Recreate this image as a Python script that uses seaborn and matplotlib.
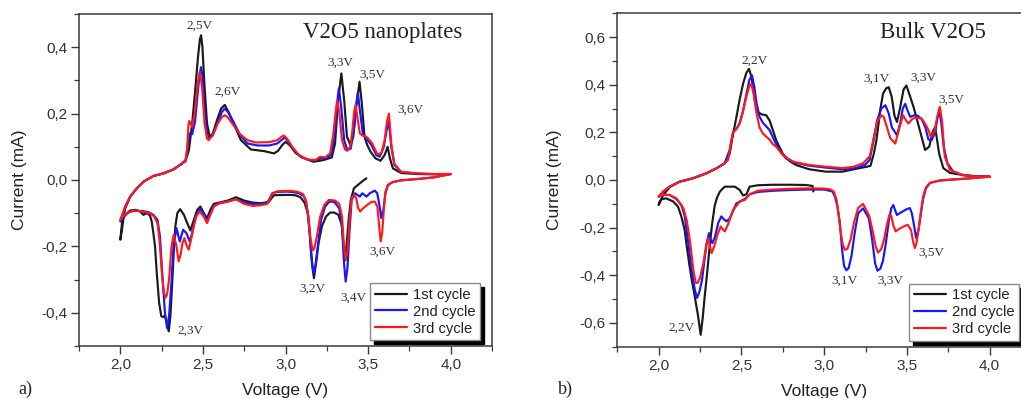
import matplotlib
matplotlib.use("Agg")
import matplotlib.pyplot as plt
from matplotlib.ticker import MultipleLocator, FuncFormatter
import numpy as np
import pandas as pd
import seaborn as sns

# ---------------- (a) V2O5 nanoplates ----------------
# 1st cycle: starts at open-circuit voltage, reduction to 2.0 V, then oxidation to 4.0 V
nano_c1_red_v = [3.490, 3.475, 3.450, 3.414, 3.395, 3.382, 3.372, 3.362, 3.352, 3.340, 3.320, 3.295, 3.270, 3.245,
                 3.220, 3.200, 3.185, 3.172, 3.160, 3.148, 3.135, 3.115, 3.090, 3.060, 3.030, 2.980, 2.930, 2.915,
                 2.900, 2.850, 2.800, 2.750, 2.700, 2.650, 2.600, 2.565, 2.545, 2.525, 2.505, 2.485, 2.465, 2.445,
                 2.424, 2.405, 2.385, 2.362, 2.345, 2.333, 2.322, 2.313, 2.303, 2.293, 2.282, 2.270, 2.258, 2.248,
                 2.235, 2.222, 2.210, 2.200, 2.190, 2.180, 2.165, 2.150, 2.140, 2.120, 2.090, 2.060, 2.040, 2.020,
                 2.010, 2.000]
nano_c1_red_i = [0.005, 0.000, -0.010, -0.025, -0.060, -0.120, -0.180, -0.242, -0.200, -0.135, -0.105, -0.098,
                 -0.098, -0.110, -0.140, -0.190, -0.250, -0.296, -0.250, -0.170, -0.100, -0.068, -0.052, -0.046,
                 -0.045, -0.045, -0.046, -0.055, -0.066, -0.070, -0.068, -0.062, -0.052, -0.062, -0.068, -0.072,
                 -0.090, -0.115, -0.100, -0.080, -0.090, -0.120, -0.152, -0.130, -0.105, -0.088, -0.100, -0.140,
                 -0.230, -0.320, -0.410, -0.456, -0.430, -0.408, -0.413, -0.410, -0.370, -0.290, -0.200, -0.160,
                 -0.125, -0.108, -0.100, -0.102, -0.105, -0.095, -0.090, -0.092, -0.100, -0.112, -0.150, -0.180]
nano_c1_ox_v = [2.000, 2.010, 2.030, 2.060, 2.100, 2.140, 2.200, 2.260, 2.320, 2.370, 2.395, 2.415, 2.435, 2.455,
                2.470, 2.482, 2.489, 2.497, 2.510, 2.525, 2.541, 2.560, 2.585, 2.610, 2.632, 2.655, 2.690, 2.730,
                2.790, 2.870, 2.930, 2.955, 2.980, 3.000, 3.025, 3.060, 3.100, 3.170, 3.230, 3.280, 3.300, 3.318,
                3.338, 3.355, 3.372, 3.394, 3.410, 3.430, 3.448, 3.462, 3.478, 3.495, 3.515, 3.545, 3.575, 3.600,
                3.618, 3.632, 3.650, 3.700, 3.800, 3.900, 4.000]
nano_c1_ox_i = [-0.180, -0.130, -0.085, -0.050, -0.025, -0.005, 0.012, 0.020, 0.032, 0.048, 0.058, 0.090, 0.170,
                0.280, 0.370, 0.425, 0.436, 0.400, 0.280, 0.170, 0.130, 0.140, 0.180, 0.215, 0.226, 0.205, 0.165,
                0.120, 0.092, 0.087, 0.080, 0.088, 0.105, 0.115, 0.105, 0.082, 0.068, 0.055, 0.060, 0.068, 0.110,
                0.240, 0.321, 0.240, 0.130, 0.105, 0.130, 0.230, 0.296, 0.230, 0.130, 0.105, 0.085, 0.065, 0.058,
                0.075, 0.100, 0.065, 0.035, 0.021, 0.018, 0.017, 0.018]

# 2nd cycle
nano_c2_red_v = [4.000, 3.900, 3.800, 3.700, 3.650, 3.620, 3.605, 3.592, 3.580, 3.568, 3.555, 3.540, 3.510, 3.490,
                 3.465, 3.450, 3.420, 3.400, 3.388, 3.375, 3.364, 3.354, 3.342, 3.325, 3.295, 3.265, 3.240, 3.215,
                 3.195, 3.180, 3.168, 3.155, 3.140, 3.125, 3.110, 3.080, 3.040, 3.000, 2.950, 2.920, 2.905, 2.890,
                 2.850, 2.800, 2.750, 2.700, 2.650, 2.600, 2.566, 2.545, 2.525, 2.505, 2.480, 2.455, 2.435, 2.420,
                 2.400, 2.380, 2.360, 2.340, 2.322, 2.308, 2.295, 2.283, 2.270, 2.255, 2.240, 2.225, 2.200, 2.170,
                 2.140, 2.100, 2.060, 2.030, 2.000]
nano_c2_red_i = [0.018, 0.008, 0.003, -0.001, -0.006, -0.015, -0.040, -0.090, -0.115, -0.075, -0.040, -0.032,
                 -0.040, -0.050, -0.040, -0.050, -0.040, -0.060, -0.150, -0.265, -0.306, -0.250, -0.140, -0.085,
                 -0.066, -0.065, -0.080, -0.120, -0.200, -0.262, -0.282, -0.220, -0.120, -0.065, -0.048, -0.040,
                 -0.036, -0.035, -0.036, -0.040, -0.055, -0.068, -0.072, -0.072, -0.068, -0.058, -0.065, -0.070,
                 -0.078, -0.100, -0.125, -0.100, -0.088, -0.110, -0.160, -0.185, -0.160, -0.150, -0.185, -0.145,
                 -0.200, -0.320, -0.410, -0.446, -0.400, -0.290, -0.170, -0.120, -0.105, -0.097, -0.094, -0.092,
                 -0.095, -0.105, -0.125]
nano_c2_ox_v = [2.000, 2.030, 2.060, 2.100, 2.141, 2.200, 2.263, 2.323, 2.374, 2.395, 2.410, 2.420, 2.435, 2.452,
                2.468, 2.480, 2.489, 2.498, 2.512, 2.527, 2.540, 2.560, 2.590, 2.615, 2.632, 2.652, 2.685, 2.725,
                2.770, 2.830, 2.900, 2.950, 2.975, 2.995, 3.015, 3.045, 3.085, 3.140, 3.190, 3.220, 3.250, 3.280,
                3.300, 3.312, 3.323, 3.337, 3.355, 3.374, 3.395, 3.415, 3.430, 3.438, 3.450, 3.468, 3.490, 3.520,
                3.550, 3.570, 3.595, 3.612, 3.626, 3.640, 3.660, 3.700, 3.800, 3.900, 4.000]
nano_c2_ox_i = [-0.125, -0.080, -0.050, -0.025, -0.005, 0.012, 0.020, 0.032, 0.050, 0.060, 0.110, 0.140, 0.138,
                0.175, 0.260, 0.320, 0.340, 0.310, 0.200, 0.135, 0.125, 0.135, 0.175, 0.205, 0.215, 0.205, 0.175,
                0.135, 0.110, 0.104, 0.104, 0.110, 0.120, 0.128, 0.118, 0.095, 0.072, 0.060, 0.060, 0.066, 0.065,
                0.080, 0.150, 0.230, 0.276, 0.220, 0.120, 0.090, 0.095, 0.160, 0.235, 0.263, 0.210, 0.140, 0.125,
                0.105, 0.075, 0.070, 0.100, 0.150, 0.175, 0.100, 0.045, 0.024, 0.019, 0.018, 0.018]

# 3rd cycle
nano_c3_red_v = [4.000, 3.900, 3.800, 3.700, 3.650, 3.620, 3.605, 3.595, 3.585, 3.576, 3.567, 3.556, 3.540, 3.520,
                 3.495, 3.470, 3.452, 3.440, 3.428, 3.415, 3.400, 3.388, 3.376, 3.364, 3.354, 3.342, 3.325, 3.300,
                 3.262, 3.235, 3.210, 3.190, 3.175, 3.165, 3.152, 3.138, 3.122, 3.105, 3.075, 3.040, 3.000, 2.950,
                 2.920, 2.905, 2.890, 2.850, 2.800, 2.750, 2.700, 2.650, 2.600, 2.566, 2.545, 2.525, 2.505, 2.480,
                 2.460, 2.444, 2.428, 2.414, 2.400, 2.388, 2.376, 2.365, 2.353, 2.340, 2.323, 2.310, 2.295, 2.283,
                 2.273, 2.262, 2.250, 2.238, 2.225, 2.205, 2.180, 2.150, 2.120, 2.080, 2.040, 2.015, 2.000]
nano_c3_red_i = [0.018, 0.008, 0.003, -0.001, -0.006, -0.015, -0.035, -0.090, -0.160, -0.185, -0.140, -0.080,
                 -0.065, -0.066, -0.075, -0.085, -0.095, -0.085, -0.055, -0.045, -0.055, -0.120, -0.210, -0.240,
                 -0.200, -0.110, -0.072, -0.062, -0.060, -0.075, -0.110, -0.170, -0.205, -0.212, -0.180, -0.110,
                 -0.060, -0.042, -0.036, -0.033, -0.033, -0.034, -0.040, -0.058, -0.072, -0.076, -0.078, -0.072,
                 -0.058, -0.065, -0.070, -0.080, -0.105, -0.130, -0.110, -0.095, -0.110, -0.140, -0.180, -0.210,
                 -0.195, -0.175, -0.190, -0.225, -0.245, -0.200, -0.165, -0.200, -0.300, -0.345, -0.355, -0.335,
                 -0.270, -0.185, -0.130, -0.110, -0.100, -0.097, -0.094, -0.092, -0.100, -0.110, -0.120]
nano_c3_ox_v = [2.000, 2.030, 2.060, 2.100, 2.141, 2.200, 2.263, 2.323, 2.374, 2.394, 2.404, 2.412, 2.418, 2.434,
                2.450, 2.468, 2.481, 2.495, 2.510, 2.525, 2.535, 2.560, 2.590, 2.615, 2.632, 2.652, 2.685, 2.725,
                2.770, 2.820, 2.900, 2.950, 2.975, 2.990, 3.010, 3.040, 3.080, 3.130, 3.180, 3.210, 3.240, 3.270,
                3.290, 3.302, 3.313, 3.325, 3.342, 3.360, 3.374, 3.392, 3.405, 3.415, 3.424, 3.435, 3.450, 3.470,
                3.495, 3.525, 3.555, 3.580, 3.600, 3.614, 3.626, 3.640, 3.657, 3.697, 3.800, 3.900, 4.000]
nano_c3_ox_i = [-0.120, -0.080, -0.050, -0.025, -0.005, 0.012, 0.020, 0.032, 0.050, 0.055, 0.090, 0.165, 0.178,
                0.160, 0.200, 0.290, 0.326, 0.280, 0.170, 0.125, 0.120, 0.135, 0.170, 0.190, 0.195, 0.188, 0.165,
                0.138, 0.120, 0.113, 0.114, 0.120, 0.130, 0.134, 0.124, 0.100, 0.076, 0.062, 0.060, 0.070, 0.068,
                0.080, 0.140, 0.200, 0.240, 0.205, 0.120, 0.092, 0.088, 0.100, 0.150, 0.205, 0.226, 0.190, 0.140,
                0.133, 0.128, 0.110, 0.078, 0.080, 0.120, 0.175, 0.200, 0.110, 0.050, 0.025, 0.020, 0.018, 0.018]

# ---------------- (b) Bulk V2O5 ----------------
bulk_c1_red_v = [2.935, 2.930, 2.890, 2.800, 2.690, 2.600, 2.550, 2.530, 2.510, 2.490, 2.460, 2.400, 2.384, 2.369,
                 2.352, 2.338, 2.322, 2.308, 2.293, 2.278, 2.266, 2.254, 2.246, 2.238, 2.228, 2.218, 2.200, 2.187,
                 2.172, 2.157, 2.137, 2.117, 2.087, 2.046, 2.020, 2.006, 2.000]
bulk_c1_red_i = [-0.048, -0.025, -0.021, -0.020, -0.020, -0.022, -0.028, -0.060, -0.065, -0.042, -0.028, -0.028,
                 -0.038, -0.050, -0.075, -0.110, -0.190, -0.280, -0.390, -0.490, -0.580, -0.650, -0.610, -0.570,
                 -0.530, -0.488, -0.420, -0.363, -0.290, -0.210, -0.153, -0.112, -0.090, -0.077, -0.080, -0.090,
                 -0.105]
bulk_c1_ox_v = [2.000, 2.026, 2.066, 2.127, 2.207, 2.288, 2.349, 2.399, 2.429, 2.449, 2.470, 2.490, 2.510, 2.530,
                2.546, 2.562, 2.580, 2.600, 2.625, 2.650, 2.670, 2.690, 2.710, 2.750, 2.790, 2.830, 2.910, 3.010,
                3.110, 3.215, 3.260, 3.280, 3.300, 3.316, 3.340, 3.356, 3.375, 3.390, 3.408, 3.425, 3.440, 3.458,
                3.480, 3.497, 3.515, 3.540, 3.570, 3.610, 3.635, 3.655, 3.670, 3.682, 3.695, 3.720, 3.760, 3.800,
                3.900, 4.000]
bulk_c1_ox_i = [-0.105, -0.065, -0.030, -0.007, 0.007, 0.028, 0.049, 0.070, 0.110, 0.190, 0.265, 0.340, 0.404,
                0.450, 0.467, 0.430, 0.335, 0.285, 0.275, 0.272, 0.250, 0.210, 0.167, 0.110, 0.080, 0.063, 0.045,
                0.035, 0.035, 0.050, 0.056, 0.060, 0.110, 0.167, 0.300, 0.363, 0.385, 0.390, 0.350, 0.270, 0.244,
                0.300, 0.380, 0.397, 0.360, 0.307, 0.230, 0.126, 0.140, 0.200, 0.223, 0.170, 0.110, 0.050, 0.030,
                0.025, 0.016, 0.014]

bulk_c2_red_v = [4.000, 3.900, 3.800, 3.700, 3.640, 3.615, 3.598, 3.585, 3.570, 3.556, 3.543, 3.530, 3.518, 3.500,
                 3.480, 3.460, 3.440, 3.428, 3.418, 3.405, 3.390, 3.372, 3.355, 3.340, 3.322, 3.308, 3.290, 3.270,
                 3.235, 3.205, 3.185, 3.165, 3.148, 3.134, 3.120, 3.108, 3.095, 3.080, 3.065, 3.050, 3.000, 2.900,
                 2.800, 2.700, 2.600, 2.550, 2.520, 2.470, 2.430, 2.410, 2.394, 2.379, 2.360, 2.340, 2.324, 2.314,
                 2.304, 2.292, 2.278, 2.262, 2.246, 2.232, 2.218, 2.200, 2.178, 2.157, 2.137, 2.107, 2.066, 2.026,
                 2.000]
bulk_c2_red_i = [0.014, 0.008, 0.003, -0.002, -0.012, -0.035, -0.080, -0.140, -0.210, -0.244, -0.190, -0.140,
                 -0.118, -0.122, -0.130, -0.138, -0.147, -0.125, -0.105, -0.120, -0.175, -0.270, -0.340, -0.372,
                 -0.381, -0.350, -0.250, -0.160, -0.119, -0.140, -0.220, -0.320, -0.370, -0.379, -0.360, -0.290,
                 -0.180, -0.110, -0.070, -0.048, -0.040, -0.040, -0.042, -0.045, -0.050, -0.060, -0.080, -0.098,
                 -0.160, -0.174, -0.165, -0.153, -0.180, -0.240, -0.265, -0.250, -0.223, -0.260, -0.330, -0.420,
                 -0.470, -0.495, -0.460, -0.380, -0.260, -0.150, -0.105, -0.080, -0.063, -0.062, -0.070]
bulk_c2_ox_v = [2.000, 2.026, 2.066, 2.127, 2.207, 2.288, 2.349, 2.399, 2.429, 2.449, 2.470, 2.490, 2.510, 2.530,
                2.548, 2.564, 2.578, 2.592, 2.610, 2.630, 2.650, 2.670, 2.690, 2.710, 2.730, 2.770, 2.830, 2.910,
                3.010, 3.110, 3.200, 3.250, 3.275, 3.300, 3.320, 3.345, 3.370, 3.390, 3.410, 3.440, 3.460, 3.475,
                3.490, 3.505, 3.520, 3.545, 3.565, 3.590, 3.612, 3.630, 3.650, 3.670, 3.685, 3.695, 3.708, 3.722,
                3.745, 3.780, 3.840, 3.920, 4.000]
bulk_c2_ox_i = [-0.070, -0.049, -0.028, -0.007, 0.007, 0.028, 0.049, 0.070, 0.126, 0.200, 0.215, 0.240, 0.290,
                0.360, 0.420, 0.440, 0.390, 0.320, 0.265, 0.240, 0.225, 0.210, 0.180, 0.150, 0.125, 0.090, 0.072,
                0.060, 0.052, 0.045, 0.052, 0.065, 0.085, 0.170, 0.250, 0.300, 0.314, 0.280, 0.220, 0.188, 0.240,
                0.300, 0.320, 0.290, 0.265, 0.272, 0.270, 0.255, 0.220, 0.170, 0.167, 0.200, 0.260, 0.293, 0.240,
                0.140, 0.070, 0.035, 0.020, 0.016, 0.014]

bulk_c3_red_v = [4.000, 3.900, 3.800, 3.700, 3.640, 3.615, 3.598, 3.585, 3.570, 3.558, 3.548, 3.538, 3.525, 3.505,
                 3.480, 3.455, 3.432, 3.418, 3.405, 3.395, 3.380, 3.362, 3.345, 3.326, 3.312, 3.295, 3.272, 3.235,
                 3.205, 3.180, 3.160, 3.140, 3.125, 3.112, 3.100, 3.088, 3.075, 3.060, 3.040, 3.000, 2.900, 2.800,
                 2.700, 2.600, 2.550, 2.520, 2.490, 2.450, 2.420, 2.400, 2.385, 2.375, 2.355, 2.335, 2.320, 2.310,
                 2.300, 2.288, 2.270, 2.250, 2.236, 2.224, 2.210, 2.190, 2.170, 2.150, 2.137, 2.107, 2.066, 2.026,
                 2.000]
bulk_c3_red_i = [0.014, 0.008, 0.003, -0.002, -0.012, -0.032, -0.070, -0.130, -0.210, -0.265, -0.286, -0.260,
                 -0.210, -0.188, -0.195, -0.205, -0.216, -0.190, -0.150, -0.145, -0.185, -0.250, -0.290, -0.305,
                 -0.280, -0.220, -0.150, -0.100, -0.118, -0.180, -0.250, -0.290, -0.293, -0.270, -0.220, -0.150,
                 -0.084, -0.050, -0.040, -0.036, -0.035, -0.037, -0.040, -0.045, -0.060, -0.084, -0.090, -0.126,
                 -0.185, -0.216, -0.205, -0.195, -0.230, -0.280, -0.307, -0.280, -0.244, -0.270, -0.350, -0.410,
                 -0.432, -0.432, -0.380, -0.260, -0.170, -0.120, -0.105, -0.077, -0.063, -0.062, -0.070]
bulk_c3_ox_v = [2.000, 2.026, 2.066, 2.127, 2.207, 2.288, 2.349, 2.399, 2.420, 2.435, 2.450, 2.470, 2.490, 2.510,
                2.530, 2.548, 2.560, 2.575, 2.590, 2.610, 2.630, 2.650, 2.670, 2.690, 2.710, 2.750, 2.810, 2.910,
                3.010, 3.110, 3.175, 3.235, 3.276, 3.300, 3.320, 3.345, 3.360, 3.380, 3.400, 3.430, 3.455, 3.477,
                3.495, 3.510, 3.530, 3.550, 3.590, 3.615, 3.630, 3.645, 3.665, 3.685, 3.699, 3.712, 3.729, 3.760,
                3.840, 3.920, 4.000]
bulk_c3_ox_i = [-0.070, -0.049, -0.028, -0.007, 0.007, 0.028, 0.049, 0.070, 0.085, 0.150, 0.200, 0.215, 0.237,
                0.290, 0.350, 0.395, 0.404, 0.360, 0.285, 0.220, 0.195, 0.182, 0.170, 0.150, 0.140, 0.105, 0.077,
                0.063, 0.056, 0.050, 0.055, 0.070, 0.100, 0.180, 0.245, 0.272, 0.265, 0.220, 0.175, 0.153, 0.220,
                0.272, 0.250, 0.237, 0.255, 0.262, 0.258, 0.230, 0.210, 0.180, 0.200, 0.270, 0.307, 0.250, 0.098,
                0.042, 0.020, 0.015, 0.014]

cycle_names = ["1st cycle", "2nd cycle", "3rd cycle"]
cycle_colors = ["#1a1a1a", "#1515ff", "#ff1a1a"]

# Peak labels: (text, voltage, current)
nano_peaks = [("2,5V", 2.479, 0.466), ("2,6V", 2.647, 0.266), ("3,3V", 3.333, 0.353),
              ("3,5V", 3.525, 0.316), ("3,6V", 3.754, 0.213), ("3,6V", 3.586, -0.215),
              ("3,2V", 3.162, -0.329), ("3,4V", 3.410, -0.356), ("2,3V", 2.424, -0.453)]
bulk_peaks = [("2,2V", 2.580, 0.502), ("3,1V", 3.316, 0.425), ("3,3V", 3.598, 0.428),
              ("3,5V", 3.770, 0.335), ("3,1V", 3.125, -0.425), ("3,3V", 3.400, -0.425),
              ("3,5V", 3.649, -0.307), ("2,2V", 2.137, -0.621)]


def cycle_frame(paths):
    """Join the branches of every cycle into one long table, keeping path order."""
    rows = []
    for name, branches in zip(cycle_names, paths):
        v = np.concatenate([b[0] for b in branches])
        i = np.concatenate([b[1] for b in branches])
        rows.append(pd.DataFrame({"Voltage": v, "Current": i, "cycle": name}))
    return pd.concat(rows, ignore_index=True)


nano_df = cycle_frame([
    [(nano_c1_red_v, nano_c1_red_i), (nano_c1_ox_v, nano_c1_ox_i)],
    [(nano_c2_red_v, nano_c2_red_i), (nano_c2_ox_v, nano_c2_ox_i)],
    [(nano_c3_red_v, nano_c3_red_i), (nano_c3_ox_v, nano_c3_ox_i)],
])
bulk_df = cycle_frame([
    [(bulk_c1_red_v, bulk_c1_red_i), (bulk_c1_ox_v, bulk_c1_ox_i)],
    [(bulk_c2_red_v, bulk_c2_red_i), (bulk_c2_ox_v, bulk_c2_ox_i)],
    [(bulk_c3_red_v, bulk_c3_red_i), (bulk_c3_ox_v, bulk_c3_ox_i)],
])

sns.set_theme(style="ticks")
plt.rcParams["font.family"] = ["Liberation Sans", "DejaVu Sans"]
plt.rcParams["axes.edgecolor"] = "#3a3a3a"
plt.rcParams["axes.linewidth"] = 1.1

SERIF = ["Liberation Serif", "DejaVu Serif"]
comma = FuncFormatter(lambda val, pos: ("%.1f" % (0.0 if abs(val) < 1e-9 else val)).replace(".", ","))

fig = plt.figure(figsize=(10.21, 3.98), dpi=100)
ax_a = fig.add_axes([0.0774, 0.1307, 0.4045, 0.8341])
ax_b = fig.add_axes([0.6046, 0.1289, 0.4052, 0.8377])


def draw_panel(ax, df, ylim, peaks, title, title_x, letter, letter_x):
    sns.lineplot(data=df, x="Voltage", y="Current", hue="cycle", hue_order=cycle_names,
                 palette=cycle_colors, sort=False, estimator=None, linewidth=1.55, ax=ax)
    ax.set_xlim(1.75, 4.25)
    ax.set_ylim(*ylim)
    ax.xaxis.set_major_locator(MultipleLocator(0.5))
    ax.xaxis.set_minor_locator(MultipleLocator(0.25))
    ax.yaxis.set_major_locator(MultipleLocator(0.2))
    ax.yaxis.set_minor_locator(MultipleLocator(0.1))
    ax.xaxis.set_major_formatter(comma)
    ax.yaxis.set_major_formatter(comma)
    ax.tick_params(which="major", direction="out", length=6, width=1.0, color="#3a3a3a",
                   labelsize=11, labelcolor="#333333", pad=2.5)
    ax.tick_params(which="minor", direction="out", length=3.5, width=0.9, color="#3a3a3a")
    for side in ("top", "right"):
        ax.spines[side].set_visible(True)

    ax.set_xlabel("Voltage (V)", fontsize=12.5, color="#222222")
    ax.set_ylabel("Current (mA)", fontsize=12.5, color="#222222")
    ax.xaxis.label.set_va("center")
    ax.yaxis.label.set_va("center")
    ax.xaxis.set_label_coords(0.5, -0.135)
    ax.yaxis.set_label_coords(-0.143, 0.5)

    for txt, v, i in peaks:
        ax.text(v, i, txt, ha="center", va="center", fontsize=9.5, family=SERIF, color="#333333")
    ax.text(title_x, 0.943, title, transform=ax.transAxes, ha="center", va="center",
            fontsize=16.5, family=SERIF, color="#222222")
    fig.text(letter_x, 0.022, letter, ha="left", va="center", fontsize=13, family=SERIF, color="#222222")

    leg = ax.legend(loc="lower right", bbox_to_anchor=(0.971, 0.018), borderaxespad=0,
                    fontsize=10.6, frameon=True, fancybox=False,
                    shadow={"color": "black", "alpha": 1.0, "ox": 3, "oy": -3},
                    handlelength=2.2, handletextpad=0.4, borderpad=0.3, labelspacing=0.2,
                    title=None)
    leg.get_frame().set_edgecolor("#8a8a8a")
    leg.get_frame().set_linewidth(1.0)
    leg.get_frame().set_facecolor("white")
    leg.get_frame().set_alpha(1.0)
    for line in leg.get_lines():
        line.set_linewidth(1.6)
    for t in leg.get_texts():
        t.set_color("#222222")


draw_panel(ax_a, nano_df, (-0.5, 0.5), nano_peaks, "V2O5 nanoplates", 0.735, "a)", 0.018)
draw_panel(ax_b, bulk_df, (-0.7, 0.7), bulk_peaks, "Bulk V2O5", 0.763, "b)", 0.546)
ax_b.yaxis.set_label_coords(-0.151, 0.5)

fig.savefig("out.png", dpi=100)
